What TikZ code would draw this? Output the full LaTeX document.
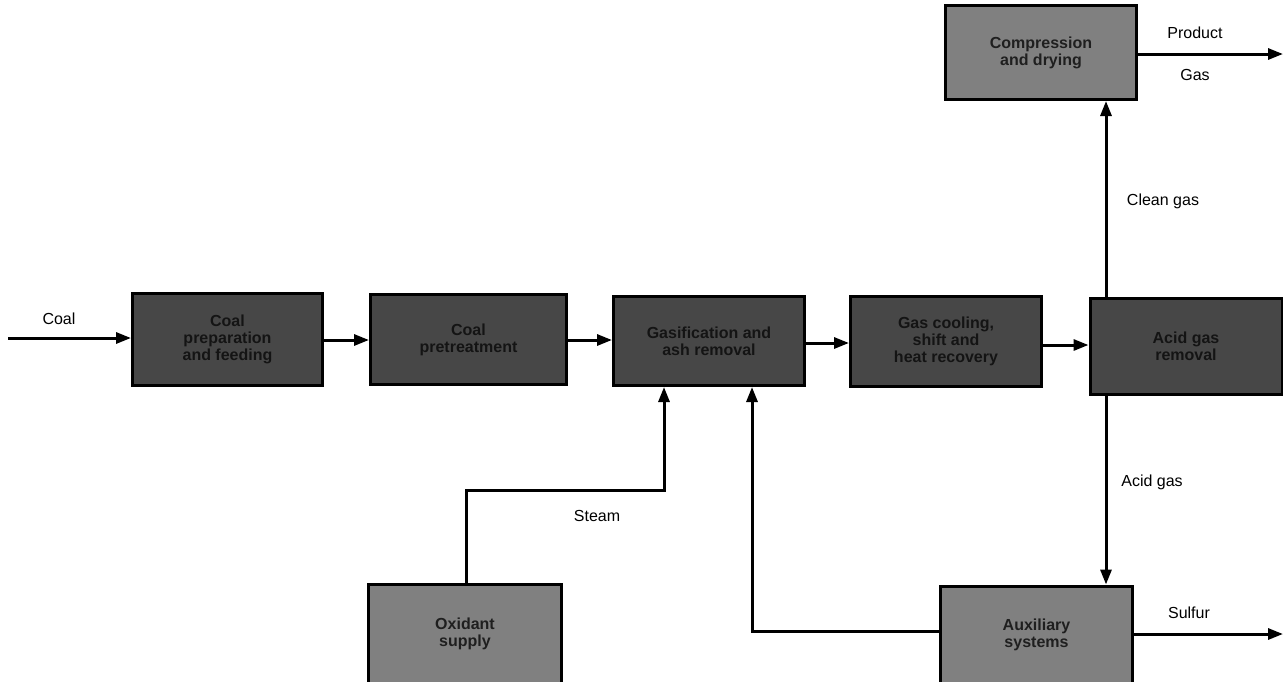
\documentclass[tikz,border=0pt]{standalone}
\usepackage{fontspec}
\setmainfont{Liberation Sans}
\usetikzlibrary{arrows.meta}
\begin{document}
\begin{tikzpicture}[x=1pt,y=-1pt,
  box/.style={draw=black,line width=3pt,fill=black!72,text=black!92,align=center,
    inner sep=0pt,font=\fontsize{16}{17}\selectfont\bfseries},
  lightbox/.style={box,fill=black!50,text=black!88},
  flow/.style={line width=3pt,-{Triangle[length=15pt,width=11pt]}},
  lbl/.style={font=\fontsize{16}{19}\selectfont,inner sep=0pt}]
\useasboundingbox (0,0) rectangle (1283,681);
% boxes
\node[box,minimum width=190pt,minimum height=92pt] (b1) at (227.5,339.5) {Coal\\preparation\\and feeding};
\node[box,minimum width=196pt,minimum height=90pt] (b2) at (468.5,339.5) {Coal\\pretreatment};
\node[box,minimum width=191pt,minimum height=89pt] (b3) at (709,341) {Gasification and\\ash removal};
\node[box,minimum width=191pt,minimum height=90pt] (b4) at (946,341.5) {Gas cooling,\\shift and\\heat recovery};
\node[box,minimum width=192pt,minimum height=96pt] (b5) at (1186,346.5) {Acid gas\\removal};
\node[lightbox,minimum width=191pt,minimum height=94pt] (top) at (1041,52.5) {Compression\\and drying};
\node[lightbox,minimum width=193pt,minimum height=100pt] (ox) at (465,634) {Oxidant\\supply};
\node[lightbox,minimum width=192pt,minimum height=98pt] (aux) at (1036.5,635) {Auxiliary\\systems};
% coordinates
\coordinate (coalin) at (8,338);
\coordinate (prodout) at (1283,54);
\coordinate (sulout) at (1283,634);
\coordinate (oxbend1) at (466,490);
\coordinate (oxbend2) at (664,490);
\coordinate (stbend) at (752,631);
% main line
\draw[flow] (coalin) -- (b1.west |- coalin);
\draw[flow] (b1.east |- 0,340) -- (b2.west |- 0,340);
\draw[flow] (b2.east |- 0,340) -- (b3.west |- 0,340);
\draw[flow] (b3.east |- 0,343) -- (b4.west |- 0,343);
\draw[flow] (b4.east |- 0,345) -- (b5.west |- 0,345);
% clean gas / acid gas
\draw[flow] (b5.north -| 1106,0) -- (top.south -| 1106,0);
\draw[flow] (b5.south -| 1106,0) -- (aux.north -| 1106,0);
% product gas, sulfur
\draw[flow] (top.east |- prodout) -- (prodout);
\draw[flow] (aux.east |- sulout) -- (sulout);
% oxidant
\draw[flow] (ox.north -| oxbend1) -- (oxbend1) -- (oxbend2) -- (b3.south -| oxbend2);
% steam
\draw[flow] (aux.west |- stbend) -- (stbend) -- (b3.south -| stbend);
% labels
\node[lbl] (lcoal) at (59,319) {Coal};
\node[lbl] (lclean) at (1163,201) {Clean gas};
\node[lbl] (lacid) at (1152,482) {Acid gas};
\node[lbl] (lprod) at (1195,33) {Product};
\node[lbl] (lgas) at (1195,75) {Gas};
\node[lbl] (lsul) at (1189,613) {Sulfur};
\node[lbl] (lsteam) at (597,516) {Steam};
\end{tikzpicture}
\end{document}
